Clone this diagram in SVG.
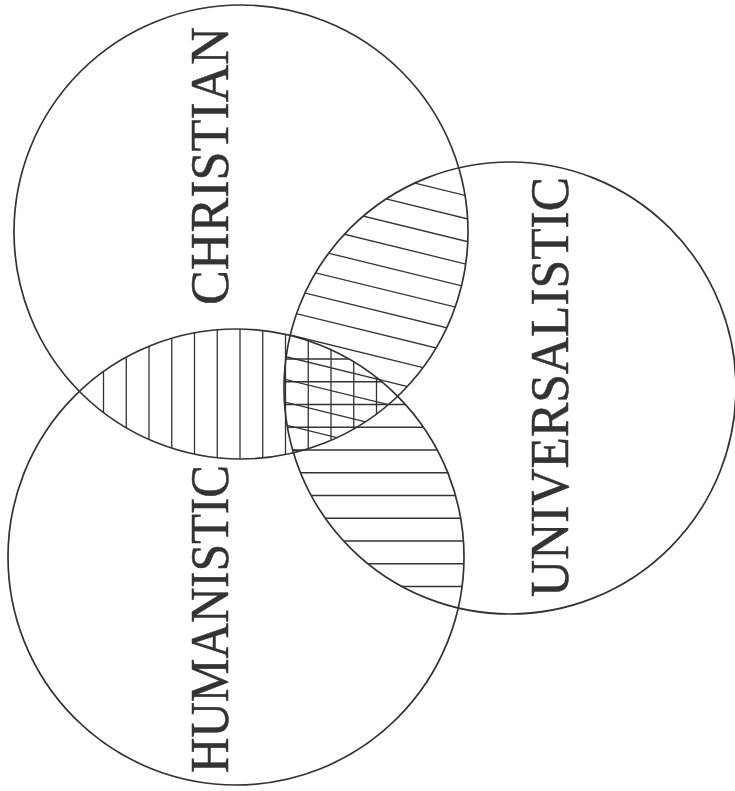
<svg xmlns="http://www.w3.org/2000/svg" width="735" height="791" viewBox="0 0 735 791">
<style>
.ring{fill:none;stroke:#333;stroke-width:1.7}
.hatch line{stroke:#333;stroke-width:1.3}
.lbl{font-family:"Liberation Serif","Times New Roman",serif;font-size:55px;fill:#333;stroke:#333;stroke-width:0.5}
</style>
<defs>
<clipPath id="cC"><circle cx="241" cy="232" r="227"/></clipPath>
<clipPath id="cH"><circle cx="236" cy="557" r="228"/></clipPath>
<clipPath id="cU"><circle cx="510" cy="388" r="226"/></clipPath>
</defs>
<rect width="735" height="791" fill="#fff"/>
<g id="hatching" class="hatch">
<g clip-path="url(#cC)"><g clip-path="url(#cH)">
<line x1="103.5" y1="300" x2="103.5" y2="480"/>
<line x1="126.25" y1="300" x2="126.25" y2="480"/>
<line x1="149" y1="300" x2="149" y2="480"/>
<line x1="171.75" y1="300" x2="171.75" y2="480"/>
<line x1="194.5" y1="300" x2="194.5" y2="480"/>
<line x1="217.25" y1="300" x2="217.25" y2="480"/>
<line x1="240" y1="300" x2="240" y2="480"/>
<line x1="262.75" y1="300" x2="262.75" y2="480"/>
<line x1="285.5" y1="300" x2="285.5" y2="480"/>
<line x1="308.25" y1="300" x2="308.25" y2="480"/>
<line x1="331" y1="300" x2="331" y2="480"/>
<line x1="353.75" y1="300" x2="353.75" y2="480"/>
<line x1="376.5" y1="300" x2="376.5" y2="480"/>
</g></g>
<g clip-path="url(#cH)"><g clip-path="url(#cU)">
<line x1="270" y1="359" x2="480" y2="359"/>
<line x1="270" y1="381.75" x2="480" y2="381.75"/>
<line x1="270" y1="404.5" x2="480" y2="404.5"/>
<line x1="270" y1="427.25" x2="480" y2="427.25"/>
<line x1="270" y1="450" x2="480" y2="450"/>
<line x1="270" y1="472.75" x2="480" y2="472.75"/>
<line x1="270" y1="495.5" x2="480" y2="495.5"/>
<line x1="270" y1="518.25" x2="480" y2="518.25"/>
<line x1="270" y1="541" x2="480" y2="541"/>
<line x1="270" y1="563.75" x2="480" y2="563.75"/>
<line x1="270" y1="586.5" x2="480" y2="586.5"/>
</g></g>
<g clip-path="url(#cC)"><g clip-path="url(#cU)">
<g transform="translate(0,81.5)">
<line x1="250" y1="61.25" x2="500" y2="122.5"/>
<line x1="250" y1="84.05" x2="500" y2="145.3"/>
<line x1="250" y1="106.85" x2="500" y2="168.1"/>
<line x1="250" y1="129.65" x2="500" y2="190.9"/>
<line x1="250" y1="152.45" x2="500" y2="213.7"/>
<line x1="250" y1="175.25" x2="500" y2="236.5"/>
<line x1="250" y1="198.05" x2="500" y2="259.3"/>
<line x1="250" y1="220.85" x2="500" y2="282.1"/>
<line x1="250" y1="243.65" x2="500" y2="304.9"/>
<line x1="250" y1="266.45" x2="500" y2="327.7"/>
<line x1="250" y1="289.25" x2="500" y2="350.5"/>
<line x1="250" y1="312.05" x2="500" y2="373.3"/>
<line x1="250" y1="334.85" x2="500" y2="396.1"/>
<line x1="250" y1="357.65" x2="500" y2="418.9"/>
</g>
</g></g>
</g>
<g id="christian">
<circle class="ring" cx="241" cy="232" r="227"/>
<text class="lbl" transform="translate(228,305) rotate(-90)" textLength="278" lengthAdjust="spacingAndGlyphs">CHRISTIAN</text>
</g>
<g id="humanistic">
<circle class="ring" cx="236" cy="557" r="228"/>
<text class="lbl" transform="translate(228,773) rotate(-90)" textLength="308" lengthAdjust="spacingAndGlyphs">HUMANISTIC</text>
</g>
<g id="universalistic">
<circle class="ring" cx="510" cy="388" r="226"/>
<text class="lbl" transform="translate(568,597) rotate(-90)" textLength="420" lengthAdjust="spacingAndGlyphs">UNIVERSALISTIC</text>
</g>
<g id="connectors"/>
</svg>
